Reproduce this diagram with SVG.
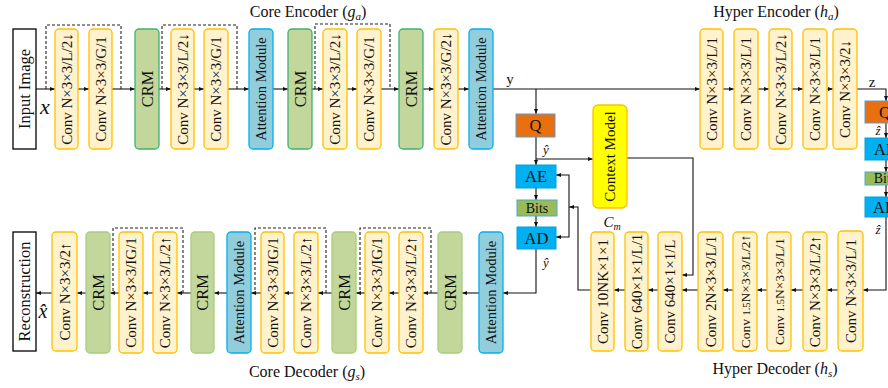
<svg xmlns="http://www.w3.org/2000/svg" width="888" height="388" viewBox="0 0 888 388">
<style>
.conv{fill:#FFF2CC;stroke:#FFC000;stroke-width:1.3}
.crm{fill:#C3D69B;stroke:#3CB371;stroke-width:1.3}
.crm2{fill:#C3D69B;stroke:#A9CC7E;stroke-width:1.3}
.att{fill:#92CDDC;stroke:#00B0F0;stroke-width:1.3}
.io{fill:#fff;stroke:#000;stroke-width:1.3}
.t{font-family:"Liberation Serif","DejaVu Serif",serif;font-size:15px;fill:#111;text-anchor:middle}
.tb{font-family:"Liberation Serif","DejaVu Serif",serif;font-size:16.5px;fill:#111;text-anchor:middle}
.lab{font-family:"Liberation Serif","DejaVu Serif",serif;font-size:16px;fill:#111;text-anchor:middle}
.m{font-family:"Liberation Serif","DejaVu Serif",serif;font-style:italic;fill:#111;text-anchor:middle}
.ln{fill:none;stroke:#111;stroke-width:1.1}
.dash{fill:none;stroke:#222;stroke-width:1.1;stroke-dasharray:3 2}
</style>
<defs>
<marker id="a" viewBox="0 0 10 10" refX="10" refY="5" markerWidth="5" markerHeight="5" orient="auto" markerUnits="userSpaceOnUse"><path d="M0,1 L10,5 L0,9 z" fill="#111"/></marker>
</defs>

<!-- labels -->
<text class="lab" x="308" y="17">Core Encoder (<tspan font-style="italic">g</tspan><tspan font-style="italic" font-size="11" dy="3">a</tspan><tspan dy="-3">)</tspan></text>
<text class="lab" x="776" y="17">Hyper Encoder (<tspan font-style="italic">h</tspan><tspan font-style="italic" font-size="11" dy="3">a</tspan><tspan dy="-3">)</tspan></text>
<text class="lab" x="307" y="377">Core Decoder (<tspan font-style="italic">g</tspan><tspan font-style="italic" font-size="11" dy="3">s</tspan><tspan dy="-3">)</tspan></text>
<text class="lab" x="775" y="374">Hyper Decoder (<tspan font-style="italic">h</tspan><tspan font-style="italic" font-size="11" dy="3">s</tspan><tspan dy="-3">)</tspan></text>
<text class="m" x="45" y="114" font-size="22">x</text>
<text class="m" x="43" y="318" font-size="20">x&#770;</text>
<text class="lab" x="510" y="84" style="font-size:15px">y</text>
<text class="m" x="546" y="154" font-size="13">ŷ</text>
<text class="m" x="546" y="267" font-size="13">ŷ</text>
<text class="lab" x="872" y="87" style="font-size:15px">z</text>
<text class="m" x="878" y="135" font-size="13">ẑ</text>
<text class="m" x="878" y="234" font-size="13">ẑ</text>
<text class="m" x="612" y="227" font-size="15">C<tspan font-size="10" dy="3">m</tspan></text>

<!-- connectors -->
<g id="connectors">
<path class="ln" marker-end="url(#a)" d="M36,89 H55"/>
<path class="ln" marker-end="url(#a)" d="M78,89 H89"/>
<path class="ln" marker-end="url(#a)" d="M112,89 H135"/>
<path class="ln" marker-end="url(#a)" d="M159,89 H171"/>
<path class="ln" marker-end="url(#a)" d="M194,89 H204"/>
<path class="ln" marker-end="url(#a)" d="M228,89 H249"/>
<path class="ln" marker-end="url(#a)" d="M273,89 H288"/>
<path class="ln" marker-end="url(#a)" d="M312,89 H323"/>
<path class="ln" marker-end="url(#a)" d="M347,89 H357"/>
<path class="ln" marker-end="url(#a)" d="M381,89 H399"/>
<path class="ln" marker-end="url(#a)" d="M423,89 H434"/>
<path class="ln" marker-end="url(#a)" d="M458,89 H469"/>
<path class="ln" marker-end="url(#a)" d="M493,89 H700"/>
<path class="ln" marker-end="url(#a)" d="M536,89 V114"/>
<path class="ln" marker-end="url(#a)" d="M723,89 H734"/>
<path class="ln" marker-end="url(#a)" d="M758,89 H769"/>
<path class="ln" marker-end="url(#a)" d="M792,89 H803"/>
<path class="ln" marker-end="url(#a)" d="M827,89 H833"/>
<path class="ln" marker-end="url(#a)" d="M857,89 H886 V101"/>
<path class="dash" d="M46,89 V25 H121 V89"/>
<path class="dash" d="M162,89 V25 H237 V89"/>
<path class="dash" d="M315,89 V24 H390 V89"/>

<path class="ln" marker-end="url(#a)" d="M536,137 V165"/>
<path class="ln" marker-end="url(#a)" d="M536,159 H593"/>
<path class="ln" marker-end="url(#a)" d="M536,188 V200"/>
<path class="ln" marker-end="url(#a)" d="M536,216 V227"/>
<path class="ln" marker-end="url(#a)" d="M536,249 V293 H503"/>
<path class="ln" marker-end="url(#a)" d="M627,158 H693 V275 H682"/>
<path class="ln" marker-end="url(#a)" d="M591,290 H578 V207 H569"/>
<path class="ln" marker-end="url(#a)" d="M569,207 V175 H556"/>
<path class="ln" marker-end="url(#a)" d="M569,207 V237 H556"/>

<path class="ln" marker-end="url(#a)" d="M886,123 V138"/>
<path class="ln" marker-end="url(#a)" d="M886,160 V172"/>
<path class="ln" marker-end="url(#a)" d="M886,185 V197"/>
<path class="ln" marker-end="url(#a)" d="M886,217 V290 H863"/>
<path class="ln" marker-end="url(#a)" d="M838,290 H827"/>
<path class="ln" marker-end="url(#a)" d="M803,290 H791"/>
<path class="ln" marker-end="url(#a)" d="M767,290 H757"/>
<path class="ln" marker-end="url(#a)" d="M733,290 H723"/>
<path class="ln" marker-end="url(#a)" d="M698,290 H682"/>
<path class="ln" marker-end="url(#a)" d="M658,290 H648"/>
<path class="ln" marker-end="url(#a)" d="M625,290 H614"/>

<path class="ln" marker-end="url(#a)" d="M479,293 H462"/>
<path class="ln" marker-end="url(#a)" d="M438,293 H423"/>
<path class="ln" marker-end="url(#a)" d="M399,293 H389"/>
<path class="ln" marker-end="url(#a)" d="M365,293 H356"/>
<path class="ln" marker-end="url(#a)" d="M332,293 H318"/>
<path class="ln" marker-end="url(#a)" d="M294,293 H284"/>
<path class="ln" marker-end="url(#a)" d="M261,293 H251"/>
<path class="ln" marker-end="url(#a)" d="M227,293 H214"/>
<path class="ln" marker-end="url(#a)" d="M191,293 H177"/>
<path class="ln" marker-end="url(#a)" d="M153,293 H143"/>
<path class="ln" marker-end="url(#a)" d="M119,293 H110"/>
<path class="ln" marker-end="url(#a)" d="M86,293 H77"/>
<path class="ln" marker-end="url(#a)" d="M52,293 H36"/>
<path class="dash" d="M183,293 V228 H113 V293"/>
<path class="dash" d="M326,293 V228 H255 V293"/>
<path class="dash" d="M431,293 V228 H360 V293"/>
</g>

<!-- encoder -->
<g id="input"><rect class="io" x="13" y="29" width="23" height="120"/><text class="tb" transform="translate(24.5,89) rotate(-90)" y="5.5">Input Image</text></g>
<g id="enc1"><rect class="conv" x="55" y="29" width="23" height="120" rx="4"/><text class="t" transform="translate(66.5,89) rotate(-90)" y="5">Conv N×3×3/L/2↓</text></g>
<g id="enc2"><rect class="conv" x="89" y="29" width="23" height="120" rx="4"/><text class="t" transform="translate(100.5,89) rotate(-90)" y="5">Conv N×3×3/G/1</text></g>
<g id="enc3"><rect class="crm" x="135" y="29" width="24" height="120" rx="4"/><text class="tb" transform="translate(147,89) rotate(-90)" y="5.5">CRM</text></g>
<g id="enc4"><rect class="conv" x="171" y="29" width="23" height="120" rx="4"/><text class="t" transform="translate(182.5,89) rotate(-90)" y="5">Conv N×3×3/L/2↓</text></g>
<g id="enc5"><rect class="conv" x="204" y="29" width="24" height="120" rx="4"/><text class="t" transform="translate(216,89) rotate(-90)" y="5">Conv N×3×3/G/1</text></g>
<g id="enc6"><rect class="att" x="249" y="29" width="24" height="120" rx="4"/><text class="t" transform="translate(261,89) rotate(-90)" y="5" style="font-size:14.5px">Attention Module</text></g>
<g id="enc7"><rect class="crm" x="288" y="29" width="24" height="120" rx="4"/><text class="tb" transform="translate(300,89) rotate(-90)" y="5.5">CRM</text></g>
<g id="enc8"><rect class="conv" x="323" y="29" width="24" height="120" rx="4"/><text class="t" transform="translate(335,89) rotate(-90)" y="5">Conv N×3×3/L/2↓</text></g>
<g id="enc9"><rect class="conv" x="357" y="29" width="24" height="120" rx="4"/><text class="t" transform="translate(369,89) rotate(-90)" y="5">Conv N×3×3/G/1</text></g>
<g id="enc10"><rect class="crm" x="399" y="29" width="24" height="120" rx="4"/><text class="tb" transform="translate(411,89) rotate(-90)" y="5.5">CRM</text></g>
<g id="enc11"><rect class="conv" x="434" y="29" width="24" height="120" rx="4"/><text class="t" transform="translate(446,89) rotate(-90)" y="5">Conv N×3×3/G/2↓</text></g>
<g id="enc12"><rect class="att" x="469" y="29" width="24" height="120" rx="4"/><text class="t" transform="translate(481,89) rotate(-90)" y="5" style="font-size:14.5px">Attention Module</text></g>

<!-- hyper encoder -->
<g id="he1"><rect class="conv" x="700" y="29" width="23" height="120" rx="4"/><text class="t" transform="translate(711.5,89) rotate(-90)" y="5">Conv N×3×3/L/1</text></g>
<g id="he2"><rect class="conv" x="734" y="29" width="24" height="120" rx="4"/><text class="t" transform="translate(746,89) rotate(-90)" y="5">Conv N×3×3/L/1</text></g>
<g id="he3"><rect class="conv" x="769" y="29" width="23" height="120" rx="4"/><text class="t" transform="translate(780.5,89) rotate(-90)" y="5">Conv N×3×3/L/2↓</text></g>
<g id="he4"><rect class="conv" x="803" y="29" width="24" height="120" rx="4"/><text class="t" transform="translate(815,89) rotate(-90)" y="5">Conv N×3×3/L/1</text></g>
<g id="he5"><rect class="conv" x="833" y="29" width="24" height="120" rx="4"/><text class="t" transform="translate(845,89) rotate(-90)" y="5">Conv N×3×3/2↓</text></g>

<!-- entropy coding (main) -->
<g id="q"><rect x="516" y="114" width="39" height="23" fill="#E8700F" stroke="#5B9BD5" stroke-width="1"/><text class="tb" x="535.5" y="131">Q</text></g>
<g id="ae"><rect x="516" y="165" width="40" height="23" fill="#00B0F0" stroke="#00A0E0" stroke-width="1"/><text class="tb" x="536" y="182">AE</text></g>
<g id="bits"><rect x="517" y="200" width="40" height="16" fill="#9BBB59" stroke="#4BACC6" stroke-width="1"/><text class="t" x="537" y="213" style="font-size:14px">Bits</text></g>
<g id="ad"><rect x="517" y="227" width="39" height="22" fill="#00B0F0" stroke="#00A0E0" stroke-width="1"/><text class="tb" x="536.5" y="243.5">AD</text></g>
<g id="ctx"><rect x="593" y="105" width="34" height="103" rx="5" fill="#FFFF00" stroke="#FFC000" stroke-width="1.3"/><text class="t" transform="translate(610,156.5) rotate(-90)" y="5" style="font-size:15px">Context Model</text></g>

<!-- entropy coding (hyper), cut off by the right edge as in the source -->
<g id="q2"><rect x="865" y="101" width="40" height="22" fill="#E8700F" stroke="#5B9BD5" stroke-width="1"/><text class="tb" x="885" y="117.5">Q</text></g>
<g id="ae2"><rect x="865" y="138" width="40" height="22" fill="#00B0F0" stroke="#00A0E0" stroke-width="1"/><text class="tb" x="885" y="154.5">AE</text></g>
<g id="bits2"><rect x="865" y="172" width="40" height="13" fill="#9BBB59" stroke="#4BACC6" stroke-width="1"/><text class="t" x="885" y="183" style="font-size:14px">Bits</text></g>
<g id="ad2"><rect x="865" y="197" width="40" height="20" fill="#00B0F0" stroke="#00A0E0" stroke-width="1"/><text class="tb" x="885" y="212.5">AD</text></g>

<!-- hyper decoder -->
<g id="hd1"><rect class="conv" x="591" y="232" width="23" height="119" rx="4"/><text class="t" transform="translate(602.5,291.5) rotate(-90)" y="5">Conv 10NK×1×1</text></g>
<g id="hd2"><rect class="conv" x="625" y="232" width="23" height="119" rx="4"/><text class="t" transform="translate(636.5,291.5) rotate(-90)" y="5">Conv 640×1×1/L/1</text></g>
<g id="hd3"><rect class="conv" x="658" y="232" width="24" height="119" rx="4"/><text class="t" transform="translate(670,291.5) rotate(-90)" y="5">Conv 640×1×1/L</text></g>
<g id="hd4"><rect class="conv" x="698" y="232" width="25" height="119" rx="4"/><text class="t" transform="translate(710.5,291.5) rotate(-90)" y="5">Conv 2N×3×3/L/1</text></g>
<g id="hd5"><rect class="conv" x="733" y="232" width="24" height="119" rx="4"/><text class="t" transform="translate(745,291.5) rotate(-90)" y="5" style="font-size:13.5px">Conv <tspan font-size="10.5">1.5</tspan>N×3×3/L/2↑</text></g>
<g id="hd6"><rect class="conv" x="767" y="232" width="24" height="119" rx="4"/><text class="t" transform="translate(779,291.5) rotate(-90)" y="5" style="font-size:13.5px">Conv <tspan font-size="10.5">1.5</tspan>N×3×3/L/1</text></g>
<g id="hd7"><rect class="conv" x="803" y="232" width="24" height="119" rx="4"/><text class="t" transform="translate(815,291.5) rotate(-90)" y="5">Conv N×3×3/L/2↑</text></g>
<g id="hd8"><rect class="conv" x="838" y="231" width="25" height="120" rx="4"/><text class="t" transform="translate(850.5,291) rotate(-90)" y="5">Conv N×3×3/L/1</text></g>

<!-- decoder -->
<g id="recon"><rect class="io" x="13" y="232" width="23" height="119"/><text class="tb" transform="translate(24.5,291.5) rotate(-90)" y="5.5">Reconstruction</text></g>
<g id="dec1"><rect class="conv" x="52" y="232" width="25" height="119" rx="4"/><text class="t" transform="translate(64.5,291.5) rotate(-90)" y="5">Conv N×3×3/2↑</text></g>
<g id="dec2"><rect class="crm2" x="86" y="232" width="24" height="121" rx="4"/><text class="tb" transform="translate(98,292.5) rotate(-90)" y="5.5">CRM</text></g>
<g id="dec3"><rect class="conv" x="119" y="232" width="24" height="121" rx="4"/><text class="t" transform="translate(131,292.5) rotate(-90)" y="5">Conv N×3×3/IG/1</text></g>
<g id="dec4"><rect class="conv" x="153" y="232" width="24" height="121" rx="4"/><text class="t" transform="translate(165,292.5) rotate(-90)" y="5">Conv N×3×3/L/2↑</text></g>
<g id="dec5"><rect class="crm2" x="191" y="232" width="23" height="121" rx="4"/><text class="tb" transform="translate(202.5,292.5) rotate(-90)" y="5.5">CRM</text></g>
<g id="dec6"><rect class="att" x="227" y="232" width="24" height="121" rx="4"/><text class="t" transform="translate(239,292.5) rotate(-90)" y="5" style="font-size:14.5px">Attention Module</text></g>
<g id="dec7"><rect class="conv" x="261" y="232" width="23" height="121" rx="4"/><text class="t" transform="translate(272.5,292.5) rotate(-90)" y="5">Conv N×3×3/IG/1</text></g>
<g id="dec8"><rect class="conv" x="294" y="232" width="24" height="121" rx="4"/><text class="t" transform="translate(306,292.5) rotate(-90)" y="5">Conv N×3×3/L/2↑</text></g>
<g id="dec9"><rect class="crm2" x="332" y="232" width="24" height="121" rx="4"/><text class="tb" transform="translate(344,292.5) rotate(-90)" y="5.5">CRM</text></g>
<g id="dec10"><rect class="conv" x="365" y="232" width="24" height="121" rx="4"/><text class="t" transform="translate(377,292.5) rotate(-90)" y="5">Conv N×3×3/IG/1</text></g>
<g id="dec11"><rect class="conv" x="399" y="232" width="24" height="121" rx="4"/><text class="t" transform="translate(411,292.5) rotate(-90)" y="5">Conv N×3×3/L/2↑</text></g>
<g id="dec12"><rect class="crm2" x="438" y="232" width="24" height="121" rx="4"/><text class="tb" transform="translate(450,292.5) rotate(-90)" y="5.5">CRM</text></g>
<g id="dec13"><rect class="att" x="479" y="232" width="24" height="121" rx="4"/><text class="t" transform="translate(491,292.5) rotate(-90)" y="5" style="font-size:14.5px">Attention Module</text></g>
</svg>
